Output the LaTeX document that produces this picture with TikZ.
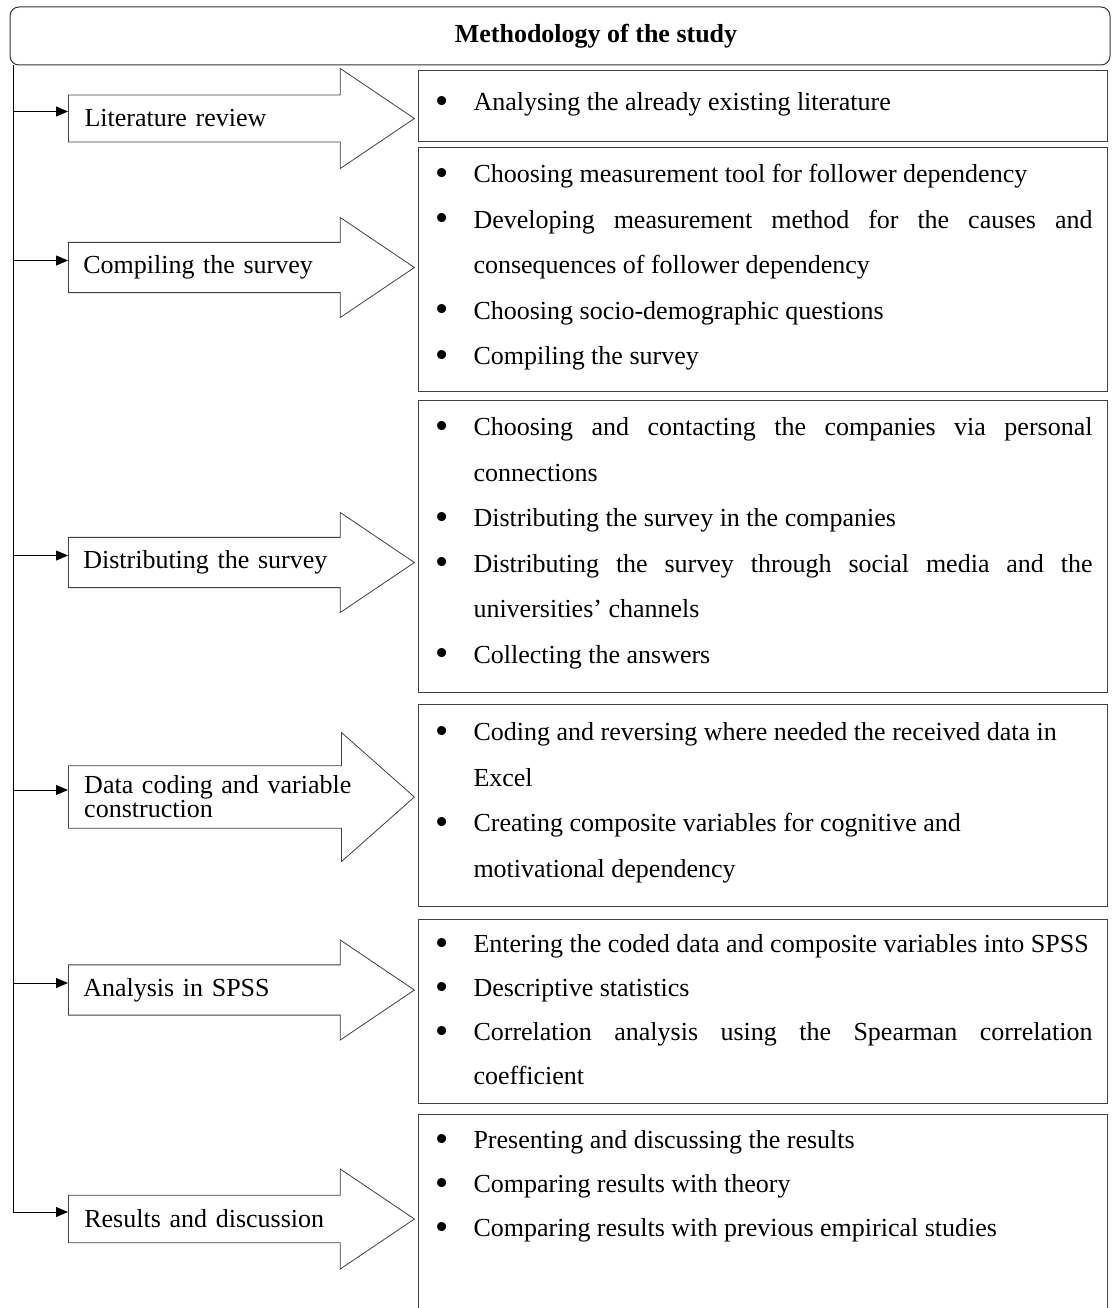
\documentclass[tikz,border=0pt]{standalone}
\usepackage{fontspec}
\setmainfont{Liberation Serif}
\usetikzlibrary{shapes.arrows,arrows.meta}

\tikzset{
  heading/.style={draw=black!80, line width=1pt, rounded corners=9pt,
    minimum width=1100pt, minimum height=58pt, inner sep=0pt,
    font=\bfseries\fontsize{26}{30}\selectfont},
  stage/.style={single arrow, draw=black!75, line width=0.8pt, fill=white,
    minimum height=346pt, minimum width=100pt,
    single arrow head extend=24.5pt, single arrow tip angle=68,
    inner xsep=12pt, inner ysep=12.5pt, text width=279pt, align=left,
    anchor=tail, font=\fontsize{26}{24}\selectfont},
  tasks/.style={draw=black!75, line width=1pt, rectangle, inner sep=0pt,
    anchor=north west},
  feed/.style={-{Triangle[length=12pt,width=10pt]}, line width=0.8pt},
}

\newcommand{\task}[1]{\par\noindent\hangindent=55pt\hangafter=1
  \hspace*{17pt}\makebox[38pt][l]{\raisebox{-2.5pt}{\scalebox{1.45}{\textbullet}}}#1\par}
\newcommand{\tasklist}[3]{\parbox[c][#1][t]{689pt}{%
  \fontsize{26}{45.5}\selectfont\parskip=0pt\rightskip=15pt
  \vspace*{#2}#3}}

\begin{document}
\begin{tikzpicture}[x=1pt,y=-1pt]
\useasboundingbox (0,0) rectangle (1112,1308);

\node[heading] (title) at (560,36) {\hspace*{72pt}Methodology of the study};

% stages
\node[stage] (lit)  at (68,118.5) {Literature review};
\node[stage] (comp) at (68,267.5) {Compiling the survey};
\node[stage] (dist) at (68,562.5) {Distributing the survey};
\node[stage, minimum width=129pt, single arrow head extend=32.5pt,
  single arrow tip angle=83, inner ysep=9pt] (code) at (68,797)
  {\makebox[277pt][s]{Data coding and variable}\\construction};
\node[stage] (spss) at (68,990) {Analysis in SPSS};
\node[stage] (res)  at (68,1219) {Results and discussion};

% what is done in each stage
\node[tasks] (b1) at (418,70) {\tasklist{71pt}{22pt}{%
  \task{Analysing the already existing literature}}};
\node[tasks] (b2) at (418,147) {\tasklist{244pt}{17pt}{%
  \task{Choosing measurement tool for follower dependency}
  \task{Developing measurement method for the causes and\linebreak
    consequences of follower dependency}
  \task{Choosing socio-demographic questions}
  \task{Compiling the survey}}};
\node[tasks] (b3) at (418,400) {\tasklist{292pt}{17pt}{%
  \task{Choosing and contacting the companies via personal\linebreak
    connections}
  \task{Distributing the survey in the companies}
  \task{Distributing the survey through social media and the\linebreak
    universities’ channels}
  \task{Collecting the answers}}};
\node[tasks] (b4) at (418,704) {\tasklist{202pt}{18pt}{%
  \task{Coding and reversing where needed the received data in\newline
    Excel}
  \task{Creating composite variables for cognitive and\newline
    motivational dependency}}};
\node[tasks] (b5) at (418,919) {\tasklist{184pt}{15pt}{\baselineskip=44pt
  \task{Entering the coded data and composite variables into SPSS}
  \task{Descriptive statistics}
  \task{Correlation analysis using the Spearman correlation\linebreak
    coefficient}}};
\node[tasks] (b6) at (418,1114) {\tasklist{200pt}{16pt}{\baselineskip=44pt
  \task{Presenting and discussing the results}
  \task{Comparing results with theory}
  \task{Comparing results with previous empirical studies}}};

% trunk and feeds
\coordinate (trunk) at ([xshift=4pt]title.south west);
\foreach \s in {lit,comp,dist,code,spss,res}
  \coordinate (\s-in) at ([yshift=7pt]\s.tail);
\foreach \s in {lit,comp,dist,code,spss}
  \draw[feed] (trunk |- \s-in) -- (\s-in);
\draw[feed] (trunk) |- (res-in);
\end{tikzpicture}
\end{document}
